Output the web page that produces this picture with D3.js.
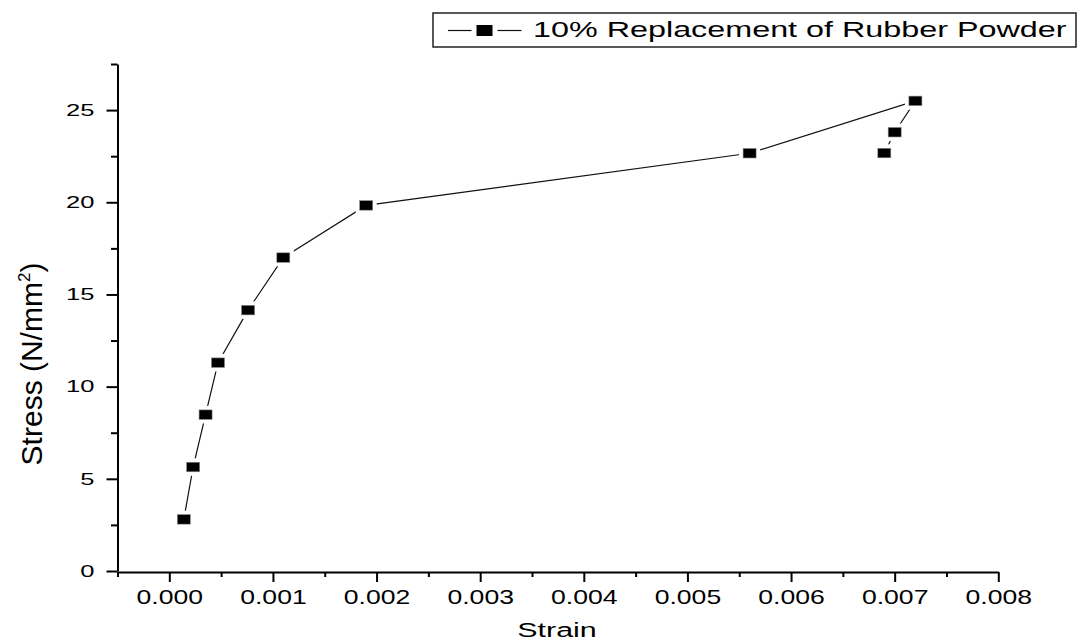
<!DOCTYPE html>
<html>
<head>
<meta charset="utf-8">
<script src="https://cdn.jsdelivr.net/npm/d3@7"></script>
<style>
  body { margin: 0; background: #fff; }
  svg { display: block; font-family: "Liberation Sans", Arial, sans-serif; }
</style>
</head>
<body>
<div id="chart"></div>
<script>
// values
const strain = [0.00014, 0.00023, 0.00035, 0.00047, 0.00076, 0.0011, 0.0019, 0.0056, 0.0072, 0.0070, 0.0069];
const stress = [2.8, 5.64, 8.48, 11.3, 14.15, 17.0, 19.83, 22.66, 25.5, 23.8, 22.67];
const xTicks = [0, 0.001, 0.002, 0.003, 0.004, 0.005, 0.006, 0.007, 0.008];
const xMinor = [-0.0005, 0.0005, 0.0015, 0.0025, 0.0035, 0.0045, 0.0055, 0.0065, 0.0075];
const yTicks = [0, 5, 10, 15, 20, 25];
const yMinor = [2.5, 7.5, 12.5, 17.5, 22.5, 27.5];
const seriesName = '10% Replacement of Rubber Powder';

const width = 1080;
const height = 644;
const margin = { top: 64, right: 81.7, bottom: 73, left: 117.5 };

const points = strain.map((s, i) => ({ x: s, y: stress[i] }));

const svg = d3.select('#chart')
    .append('svg')
    .attr('width', width)
    .attr('height', height);

const x = d3.scaleLinear()
    .domain([-0.0005, 0.008])
    .range([margin.left, width - margin.right]);

const y = d3.scaleLinear()
    .domain([0, 27.5])
    .range([height - margin.bottom, margin.top]);

// minor ticks first, majors (with the axis line) on top
svg.append('g')
    .attr('transform', `translate(0,${y(0) + 1})`)
    .call(d3.axisBottom(x).tickValues(xMinor).tickSize(5).tickSizeOuter(0).tickFormat(''))
    .call(g => g.select('.domain').remove())
    .call(g => g.selectAll('line').attr('stroke', '#000').attr('stroke-width', 2));

svg.append('g')
    .attr('transform', `translate(${x(-0.0005)},0)`)
    .call(d3.axisLeft(y).tickValues(yMinor).tickSize(6.5).tickSizeOuter(0).tickFormat(''))
    .call(g => g.select('.domain').remove())
    .call(g => g.selectAll('line').attr('stroke', '#000').attr('stroke-width', 2));

function xAxis(g) {
  g.attr('transform', `translate(0,${y(0) + 1})`)
    .call(d3.axisBottom(x).tickValues(xTicks).tickSize(10).tickPadding(8).tickSizeOuter(0)
      .tickFormat(d3.format('.3f')))
    .call(g => g.select('.domain').attr('stroke', '#000').attr('stroke-width', 2))
    .call(g => g.selectAll('line').attr('stroke', '#000').attr('stroke-width', 2))
    .call(g => g.selectAll('text')
      .attr('fill', '#000')
      .attr('font-size', '20px')
      .attr('font-family', '"Liberation Sans", Arial, sans-serif')
      .attr('transform', 'scale(1.33,1)'));
}

function yAxis(g) {
  g.attr('transform', `translate(${x(-0.0005)},0)`)
    .call(d3.axisLeft(y).tickValues(yTicks).tickSize(11).tickSizeOuter(0))
    .call(g => g.select('.domain').attr('stroke', '#000').attr('stroke-width', 2))
    .call(g => g.selectAll('line').attr('stroke', '#000').attr('stroke-width', 2))
    .call(g => g.selectAll('text')
      .attr('fill', '#000')
      .attr('x', 0)
      .attr('font-size', '16.5px')
      .attr('font-family', '"Liberation Sans", Arial, sans-serif')
      .attr('transform', 'translate(-23,0) scale(1.55,1)'));
}

svg.append('g').call(xAxis);
svg.append('g').call(yAxis);

// axis titles
svg.append('text')
    .attr('transform', `translate(557,637) scale(1.45,1)`)
    .attr('text-anchor', 'middle')
    .attr('font-size', '21px')
    .text('Strain');

const yTitle = svg.append('text')
    .attr('transform', 'translate(42,364) rotate(-90)')
    .attr('text-anchor', 'middle')
    .attr('font-size', '30px');
yTitle.append('tspan').text('Stress (N/mm');
yTitle.append('tspan').attr('font-size', '17px').attr('dy', '-12').text('2');
yTitle.append('tspan').attr('dy', '12').text(')');

// series line
const line = d3.line()
    .x(d => x(d.x))
    .y(d => y(d.y));

svg.append('path')
    .datum(points)
    .attr('fill', 'none')
    .attr('stroke', '#111')
    .attr('stroke-width', 1.2)
    .attr('d', line);

// white halo gives the gap between line and marker
svg.append('g')
    .attr('fill', '#fff')
    .selectAll('rect')
    .data(points)
    .join('rect')
      .attr('x', d => x(d.x) - 10.5)
      .attr('y', d => y(d.y) - 8.75)
      .attr('width', 21)
      .attr('height', 17.5);

svg.append('g')
    .attr('fill', '#000')
    .attr('stroke', '#888')
    .attr('stroke-width', 0.6)
    .selectAll('rect')
    .data(points)
    .join('rect')
      .attr('x', d => x(d.x) - 6.5)
      .attr('y', d => y(d.y) - 4.75)
      .attr('width', 13)
      .attr('height', 9.5);

// legend
const legend = svg.append('g');
legend.append('rect')
    .attr('x', 433).attr('y', 13)
    .attr('width', 643).attr('height', 34)
    .attr('fill', '#fff')
    .attr('stroke', '#222')
    .attr('stroke-width', 1.5);
legend.append('line')
    .attr('x1', 448).attr('x2', 471.5).attr('y1', 30.5).attr('y2', 30.5)
    .attr('stroke', '#111').attr('stroke-width', 1.2);
legend.append('line')
    .attr('x1', 497.5).attr('x2', 521.5).attr('y1', 30.5).attr('y2', 30.5)
    .attr('stroke', '#111').attr('stroke-width', 1.2);
legend.append('rect')
    .attr('x', 476.5).attr('y', 25)
    .attr('width', 16).attr('height', 11)
    .attr('fill', '#000');
legend.append('text')
    .attr('transform', 'translate(533,37) scale(1.47,1)')
    .attr('font-size', '22px')
    .text(seriesName);
</script>
</body>
</html>
